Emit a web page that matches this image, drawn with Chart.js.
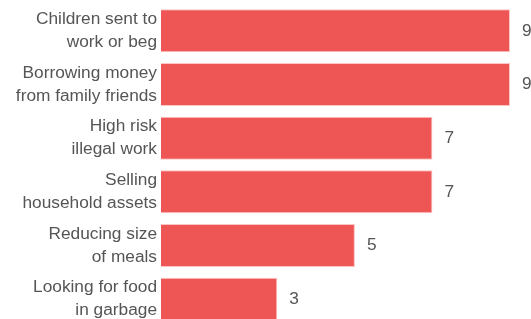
<!DOCTYPE html>
<html>
<head>
<meta charset="utf-8">
<script src="https://cdn.jsdelivr.net/npm/chart.js@4"></script>
<style>
  html, body { margin: 0; padding: 0; background: #fff; overflow: hidden; }
</style>
</head>
<body>
<canvas id="copingChart" width="531" height="326"></canvas>
<script>
const categories = [
  ["Children sent to", "work or beg"],
  ["Borrowing money", "from family friends"],
  ["High risk", "illegal work"],
  ["Selling", "household assets"],
  ["Reducing size", "of meals"],
  ["Looking for food", "in garbage"],
];
const values = [9, 9, 7, 7, 5, 3];

const textColor = "#555555";
const barColor = "#ee5656";

// value labels next to the end of each bar
const valueLabels = {
  id: "valueLabels",
  afterDatasetsDraw(chart) {
    const ctx = chart.ctx;
    const meta = chart.getDatasetMeta(0);
    ctx.save();
    ctx.font = "17.3px 'Liberation Sans', Arial, sans-serif";
    ctx.fillStyle = textColor;
    ctx.textAlign = "left";
    ctx.textBaseline = "middle";
    meta.data.forEach((bar, i) => {
      ctx.fillText(String(values[i]), bar.x + 12, bar.y);
    });
    ctx.restore();
  },
};

const ctx = document.getElementById("copingChart").getContext("2d");
new Chart(ctx, {
  type: "bar",
  data: {
    labels: categories,
    datasets: [
      {
        data: values,
        backgroundColor: barColor,
        borderColor: "rgba(255,190,190,0.9)",
        borderWidth: 1,
        categoryPercentage: 0.8,
        barPercentage: 1,
      },
    ],
  },
  options: {
    indexAxis: "y",
    responsive: false,
    animation: false,
    layout: { padding: { top: 4, right: 21, bottom: 0, left: 0 } },
    plugins: {
      legend: { display: false },
      tooltip: { enabled: false },
    },
    scales: {
      x: {
        display: false,
        min: 0,
        max: 9,
      },
      y: {
        grid: { display: false, drawTicks: false },
        border: { display: false },
        afterFit(scale) {
          scale.width = 161;
          // labels sit in the middle of the bands, no extra room needed
          scale.paddingTop = 0;
          scale.paddingBottom = 0;
        },
        ticks: {
          padding: 4,
          color: textColor,
          font: {
            family: "'Liberation Sans', Arial, sans-serif",
            size: 17.3,
            lineHeight: 1.33,
          },
        },
      },
    },
  },
  plugins: [valueLabels],
});
</script>
</body>
</html>
